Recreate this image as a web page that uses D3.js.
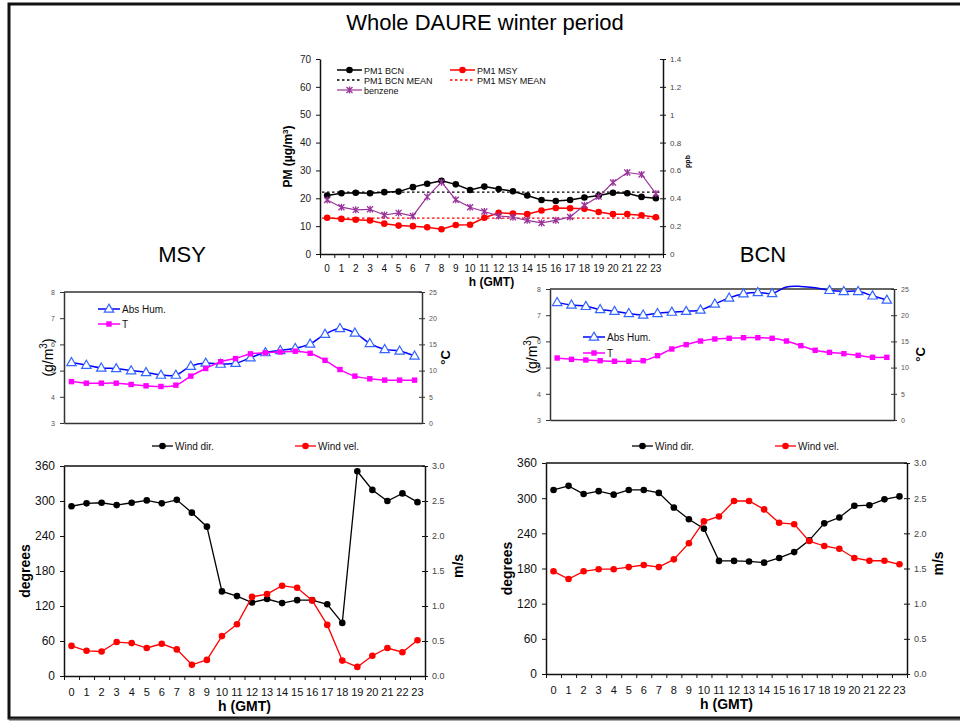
<!DOCTYPE html>
<html>
<head>
<meta charset="utf-8">
<script src="https://cdn.jsdelivr.net/npm/d3@7"></script>
<style>
  body { margin: 0; background: #fff; }
  svg { font-family: "Liberation Sans", Arial, sans-serif; }
</style>
</head>
<body>
<svg id="chart" width="960" height="723"></svg>
<script>
// hours (GMT)
var hours = [0,1,2,3,4,5,6,7,8,9,10,11,12,13,14,15,16,17,18,19,20,21,22,23];

// top panel: PM1 and benzene
var pm1Bcn = [21,21.8,22,21.8,22.2,22.4,24,25.2,26.3,25,23,24.2,23.3,22.5,21,19.4,19,19.4,20.3,21,22,21.8,20.5,20];
var pm1Msy = [13,12.6,12.3,12,10.9,10.2,10,9.6,8.9,10.4,10.5,13,14.8,14.5,14.3,15.6,16.5,16.4,16.2,15.1,14.3,14.3,13.9,13.2];
var pm1BcnMean = 22.2;
var pm1MsyMean = 12.9;
var benzene = [0.388,0.336,0.317,0.321,0.28,0.295,0.273,0.41,0.516,0.39,0.336,0.305,0.273,0.264,0.242,0.223,0.242,0.266,0.35,0.412,0.513,0.585,0.571,0.434];

// MSY humidity / temperature
var msyHum = [5.31,5.21,5.1,5.08,5.0,4.93,4.83,4.83,5.17,5.29,5.25,5.28,5.49,5.69,5.77,5.85,6.02,6.39,6.61,6.44,6.04,5.81,5.75,5.56];
var msyT = [7.9,7.6,7.6,7.6,7.35,7.1,6.97,7.22,8.95,10.4,11.7,12.3,13.2,13.4,13.55,13.7,13.3,11.96,10.2,8.95,8.44,8.18,8.18,8.18];

// BCN humidity / temperature
var bcnHum = [7.49,7.39,7.34,7.22,7.15,7.07,7.01,7.07,7.12,7.15,7.2,7.43,7.66,7.82,7.87,7.83,8.08,8.1,8.05,7.95,7.91,7.91,7.74,7.58];
var bcnT = [11.83,11.58,11.45,11.32,11.2,11.2,11.32,12.28,13.55,14.38,15.07,15.46,15.59,15.71,15.71,15.59,15.07,14.18,13.3,12.9,12.66,12.34,11.96,11.96];

// wind
var msyDir = [291,296,297,293,297,301,296,302,280,256,145,137,126,132,125,130,130,123,91,351,319,300,313,298];
var msyVel = [0.43,0.36,0.35,0.485,0.47,0.4,0.46,0.38,0.16,0.23,0.57,0.74,1.13,1.17,1.29,1.26,1.08,0.73,0.22,0.13,0.29,0.4,0.34,0.51];
var bcnDir = [314,321,307,312,306,314,314,309,284,264,248,193,193,192,190,198,208,228,257,267,287,288,298,303];
var bcnVel = [1.46,1.35,1.46,1.49,1.49,1.52,1.55,1.52,1.63,1.86,2.17,2.24,2.46,2.46,2.34,2.15,2.13,1.89,1.82,1.78,1.65,1.61,1.61,1.56];

// tick values
var pmTicks = [0,10,20,30,40,50,60,70];
var ppbTicks = [0,0.2,0.4,0.6,0.8,1,1.2,1.4];
var humTicks = [3,4,5,6,7,8];
var tTicks = [0,5,10,15,20,25];
var degTicks = [0,60,120,180,240,300,360];
var velTicks = [0,0.5,1,1.5,2,2.5,3];

var svg = d3.select('#chart');

// outer frame
svg.append('rect').attr('x', 9).attr('y', 4).attr('width', 960).attr('height', 714)
  .attr('fill', 'none').attr('stroke', '#111').attr('stroke-width', 3);
svg.append('line').attr('x1', 9).attr('x2', 960).attr('y1', 719.5).attr('y2', 719.5)
  .attr('stroke', '#555').attr('stroke-width', 2);

svg.append('text').attr('x', 485).attr('y', 30).attr('text-anchor', 'middle')
  .style('font-size', '22px').text('Whole DAURE winter period');
svg.append('text').attr('x', 182).attr('y', 262).attr('text-anchor', 'middle')
  .style('font-size', '22px').text('MSY');
svg.append('text').attr('x', 763).attr('y', 262).attr('text-anchor', 'middle')
  .style('font-size', '22px').text('BCN');

function marker(g, type, color, px, py) {
  if (type == 'circle') {
    g.append('circle').attr('cx', px).attr('cy', py).attr('r', 3.3).attr('fill', color);
  } else if (type == 'tri') {
    g.append('path').attr('d', d3.symbol(d3.symbolTriangle, 38)())
      .attr('transform', 'translate(' + px + ',' + (py + 0.5) + ')')
      .attr('fill', '#fff').attr('stroke', '#3366ff').attr('stroke-width', 1.2);
  } else if (type == 'square') {
    g.append('rect').attr('x', px - 2.7).attr('y', py - 2.7).attr('width', 5.4).attr('height', 5.4)
      .attr('fill', color);
  } else if (type == 'star') {
    g.append('path').attr('d', 'M-3,-3L3,3M-3,3L3,-3M0,-3.5L0,3.5')
      .attr('transform', 'translate(' + px + ',' + py + ')')
      .attr('stroke', color).attr('stroke-width', 1.3);
  }
}

function panel(o) {
  var g = svg.append('g');
  var x = d3.scaleBand().domain(hours).range([o.x0, o.x1]);
  var xb = d3.scaleLinear().domain([0, 24]).range([o.x0, o.x1]);
  var yL = d3.scaleLinear().domain(o.left.domain).range([o.y1, o.y0]);
  var yR = d3.scaleLinear().domain(o.right.domain).range([o.y1, o.y0]);
  var cx = function(i) { return x(hours[i]) + x.bandwidth() / 2; };

  if (o.topBorder) {
    g.append('line').attr('x1', o.x0).attr('x2', o.x1).attr('y1', o.y0).attr('y2', o.y0)
      .attr('stroke', o.frameColor).attr('stroke-width', 1.3);
  }

  // left axis
  var ax = g.append('g').attr('transform', 'translate(' + o.x0 + ',0)')
    .call(d3.axisLeft(yL).tickValues(o.left.ticks).tickSize(4).tickSizeOuter(0).tickPadding(5)
      .tickFormat(o.left.format));
  ax.selectAll('text').style('font-size', o.left.font).attr('fill', o.left.color).style('font-family', 'inherit');
  ax.select('.domain').attr('stroke', o.frameColor).attr('stroke-width', 1.5);
  ax.selectAll('.tick line').attr('stroke', o.frameColor);

  // right axis, ticks cross
  var ar = g.append('g').attr('transform', 'translate(' + o.x1 + ',0)')
    .call(d3.axisRight(yR).tickValues(o.right.ticks).tickSize(3).tickSizeOuter(0).tickPadding(4)
      .tickFormat(o.right.format));
  ar.selectAll('.tick line').attr('x1', -3).attr('stroke', o.frameColor);
  ar.selectAll('text').style('font-size', o.right.font).attr('fill', o.right.color).style('font-family', 'inherit');
  ar.select('.domain').attr('stroke', o.frameColor).attr('stroke-width', 1.5);

  // bottom axis: ticks at category boundaries, labels in the middle
  var ab = g.append('g').attr('transform', 'translate(0,' + o.y1 + ')')
    .call(d3.axisBottom(xb).tickValues(o.xLabels ? d3.range(25) : []).tickSize(o.xLabels ? 4 : 0)
      .tickSizeOuter(0).tickFormat(''));
  ab.select('.domain').attr('stroke', o.frameColor).attr('stroke-width', 1.5);
  ab.selectAll('.tick line').attr('stroke', o.frameColor);
  if (o.xLabels) {
    g.append('g').selectAll('text').data(hours).enter().append('text')
      .attr('x', function(d, i) { return cx(i); })
      .attr('y', o.y1 + o.xLabelDy)
      .attr('text-anchor', 'middle')
      .style('font-size', o.xLabelFont).attr('fill', '#111')
      .text(function(d) { return d; });
    g.append('text').attr('x', (o.x0 + o.x1) / 2).attr('y', o.y1 + o.xTitleDy)
      .attr('text-anchor', 'middle').style('font-weight', 'bold').style('font-size', o.xTitleFont)
      .text('h (GMT)');
  }

  // axis titles
  var lt = g.append('text').attr('transform', 'translate(' + o.left.titleX + ',' + ((o.y0 + o.y1) / 2) + ') rotate(-90)')
    .attr('text-anchor', 'middle').style('font-size', o.left.titleFont)
    .style('font-weight', o.left.titleBold ? 'bold' : 'normal');
  o.left.title.forEach(function(p) {
    lt.append('tspan').attr('dy', p.dy || 0).style('font-size', p.size || null).text(p.t);
  });
  g.append('text').attr('transform', 'translate(' + o.right.titleX + ',' + ((o.y0 + o.y1) / 2 + (o.right.titleDy || 0)) + ') rotate(-90)')
    .attr('text-anchor', 'middle').style('font-size', o.right.titleFont).style('font-weight', 'bold')
    .text(o.right.title);

  // series
  o.series.forEach(function(s) {
    var y = s.axis == 'right' ? yR : yL;
    if (s.constant != null) {
      g.append('line').attr('x1', o.x0 + 2).attr('x2', o.x1 - 2)
        .attr('y1', y(s.constant)).attr('y2', y(s.constant))
        .attr('stroke', s.color).attr('stroke-width', 1.3).attr('stroke-dasharray', '2.5,2.5');
      return;
    }
    var line = d3.line().x(function(d, i) { return cx(i); }).y(function(d) { return y(d); })
      .curve(s.smooth ? d3.curveCatmullRom.alpha(0.5) : d3.curveLinear);
    g.append('path').attr('d', line(s.values)).attr('fill', 'none')
      .attr('stroke', s.color).attr('stroke-width', s.width || 1.5);
    var dom = y.domain();
    s.values.forEach(function(v, i) {
      if (v <= dom[1] && v >= dom[0]) marker(g, s.marker, s.markerColor || s.color, cx(i), y(v));
    });
  });

  // legend
  o.legend.forEach(function(l) {
    var s = o.series[l.s];
    if (s.constant != null) {
      g.append('line').attr('x1', l.x).attr('x2', l.x + l.len).attr('y1', l.y).attr('y2', l.y)
        .attr('stroke', s.color).attr('stroke-width', 1.3).attr('stroke-dasharray', '2.5,2.5');
    } else {
      g.append('line').attr('x1', l.x).attr('x2', l.x + l.len).attr('y1', l.y).attr('y2', l.y)
        .attr('stroke', s.color).attr('stroke-width', s.width || 1.5);
      marker(g, s.marker, s.markerColor || s.color, l.x + l.len / 2, l.y);
    }
    g.append('text').attr('x', l.x + l.len + 2).attr('y', l.y + 3.5)
      .style('font-size', l.font).attr('fill', '#111').text(s.name);
  });
}

var fmtG = function(d) { return d3.format('~g')(d); };
var fmt1 = d3.format('.1f');

// top PM panel
panel({
  x0: 320, x1: 663, y0: 59, y1: 254, frameColor: '#111', topBorder: false,
  xLabels: true, xLabelDy: 18, xLabelFont: '10px', xTitleDy: 32, xTitleFont: '12px',
  left: { domain: [0, 70], ticks: pmTicks, format: fmtG, font: '10px', color: '#222',
    titleX: 292, titleFont: '12px', titleBold: true,
    title: [{ t: 'PM (µg/m' }, { t: '3', dy: -4, size: '8px' }, { t: ')', dy: 4 }] },
  right: { domain: [0, 1.4], ticks: ppbTicks, format: fmtG, font: '8px', color: '#444',
    titleX: 690, titleFont: '7px', title: 'ppb', titleDy: 5 },
  series: [
    { name: 'PM1 BCN', values: pm1Bcn, color: '#000', marker: 'circle' },
    { name: 'PM1 MSY', values: pm1Msy, color: '#ff0000', marker: 'circle' },
    { name: 'PM1 BCN MEAN', constant: pm1BcnMean, color: '#000' },
    { name: 'PM1 MSY MEAN', constant: pm1MsyMean, color: '#ff0000' },
    { name: 'benzene', values: benzene, axis: 'right', color: '#993399', marker: 'star', width: 1.2 }
  ],
  legend: [
    { s: 0, x: 337, y: 70, len: 25, font: '9px' },
    { s: 1, x: 450, y: 70, len: 25, font: '9px' },
    { s: 2, x: 337, y: 80, len: 25, font: '9px' },
    { s: 3, x: 450, y: 80, len: 25, font: '9px' },
    { s: 4, x: 337, y: 90, len: 25, font: '9px' }
  ]
});

// MSY hum panel
panel({
  x0: 64, x1: 422, y0: 292, y1: 423, frameColor: '#333', topBorder: true, xLabels: false,
  left: { domain: [3, 8], ticks: humTicks, format: fmtG, font: '7px', color: '#555',
    titleX: 53, titleFont: '14px',
    title: [{ t: '(g/m' }, { t: '3', dy: -6, size: '10px' }, { t: ')', dy: 6 }] },
  right: { domain: [0, 25], ticks: tTicks, format: fmtG, font: '7px', color: '#555',
    titleX: 450, titleFont: '13px', title: '°C' },
  series: [
    { name: 'Abs Hum.', values: msyHum, color: '#0000ff', marker: 'tri', smooth: true },
    { name: 'T', values: msyT, axis: 'right', color: '#ff00ff', marker: 'square', smooth: true }
  ],
  legend: [
    { s: 0, x: 98, y: 309, len: 22, font: '10px' },
    { s: 1, x: 98, y: 324, len: 22, font: '10px' }
  ]
});

// BCN hum panel
panel({
  x0: 550, x1: 894, y0: 289, y1: 420, frameColor: '#333', topBorder: true, xLabels: false,
  left: { domain: [3, 8], ticks: humTicks, format: fmtG, font: '7px', color: '#555',
    titleX: 537, titleFont: '14px',
    title: [{ t: '(g/m' }, { t: '3', dy: -6, size: '10px' }, { t: ')', dy: 6 }] },
  right: { domain: [0, 25], ticks: tTicks, format: fmtG, font: '7px', color: '#555',
    titleX: 925, titleFont: '13px', title: '°C' },
  series: [
    { name: 'Abs Hum.', values: bcnHum, color: '#0000ff', marker: 'tri', smooth: true },
    { name: 'T', values: bcnT, axis: 'right', color: '#ff00ff', marker: 'square', smooth: true }
  ],
  legend: [
    { s: 0, x: 583, y: 337, len: 22, font: '10px' },
    { s: 1, x: 583, y: 353, len: 22, font: '10px' }
  ]
});

// MSY wind panel
panel({
  x0: 64, x1: 425, y0: 466, y1: 676, frameColor: '#111', topBorder: true,
  xLabels: true, xLabelDy: 20, xLabelFont: '11px', xTitleDy: 35, xTitleFont: '14px',
  left: { domain: [0, 360], ticks: degTicks, format: fmtG, font: '12px', color: '#111',
    titleX: 30, titleFont: '14px', titleBold: true, title: [{ t: 'degrees' }] },
  right: { domain: [0, 3], ticks: velTicks, format: fmt1, font: '9px', color: '#444',
    titleX: 463, titleFont: '14px', title: 'm/s', titleDy: -5 },
  series: [
    { name: 'Wind dir.', values: msyDir, color: '#000', marker: 'circle', width: 1.3 },
    { name: 'Wind vel.', values: msyVel, axis: 'right', color: '#ff0000', marker: 'circle', width: 1.3 }
  ],
  legend: [
    { s: 0, x: 152, y: 446, len: 21, font: '10px' },
    { s: 1, x: 295, y: 446, len: 21, font: '10px' }
  ]
});

// BCN wind panel
panel({
  x0: 546, x1: 907, y0: 463, y1: 674, frameColor: '#111', topBorder: true,
  xLabels: true, xLabelDy: 20, xLabelFont: '11px', xTitleDy: 35, xTitleFont: '14px',
  left: { domain: [0, 360], ticks: degTicks, format: fmtG, font: '12px', color: '#111',
    titleX: 512, titleFont: '14px', titleBold: true, title: [{ t: 'degrees' }] },
  right: { domain: [0, 3], ticks: velTicks, format: fmt1, font: '9px', color: '#444',
    titleX: 943, titleFont: '14px', title: 'm/s', titleDy: -5 },
  series: [
    { name: 'Wind dir.', values: bcnDir, color: '#000', marker: 'circle', width: 1.3 },
    { name: 'Wind vel.', values: bcnVel, axis: 'right', color: '#ff0000', marker: 'circle', width: 1.3 }
  ],
  legend: [
    { s: 0, x: 632, y: 446, len: 21, font: '10px' },
    { s: 1, x: 775, y: 446, len: 21, font: '10px' }
  ]
});
</script>
</body>
</html>
